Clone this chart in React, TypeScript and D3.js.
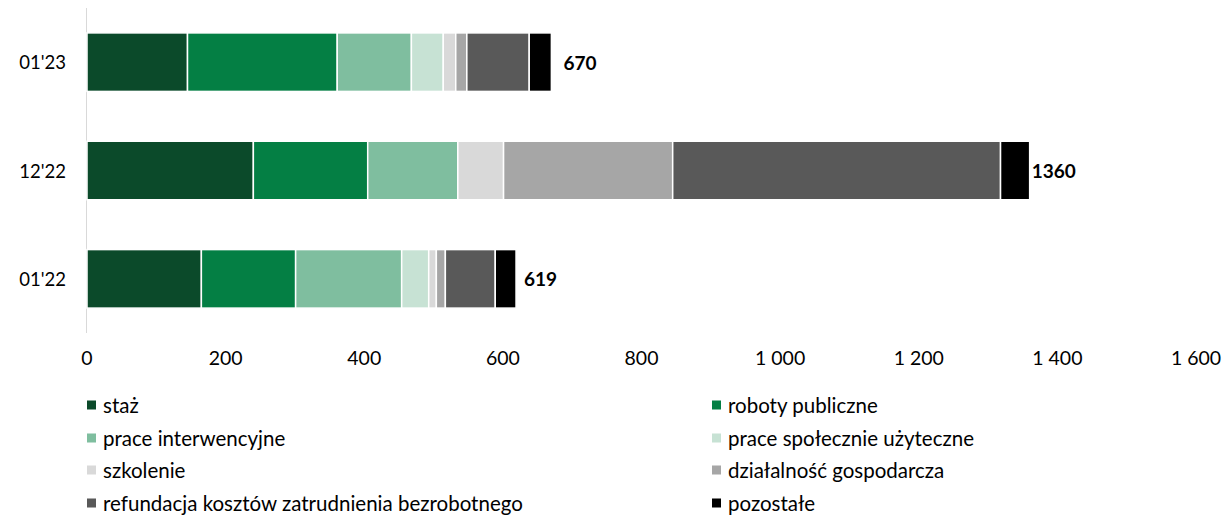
import React, { useEffect, useRef } from 'react';
import * as d3 from 'd3';

const categories = ["01'23", "12'22", "01'22"];
const seriesNames = [
  'staż',
  'roboty publiczne',
  'prace interwencyjne',
  'prace społecznie użyteczne',
  'szkolenie',
  'działalność gospodarcza',
  'refundacja kosztów zatrudnienia bezrobotnego',
  'pozostałe',
];
const seriesColors = ['#0b4a2a', '#047f44', '#7fbe9f', '#c7e2d4', '#d9d9d9', '#a6a6a6', '#595959', '#000000'];

// values per category, in series order
const staz = [145, 240, 165];
const roboty = [216, 165, 136];
const interwencyjne = [107, 130, 153];
const spoleczne = [46, 0, 39];
const szkolenie = [18, 66, 11];
const dzialalnosc = [16, 244, 13];
const refundacja = [90, 473, 72];
const pozostale = [32, 42, 30];
const totals = [670, 1360, 619];

const xTicks = [0, 200, 400, 600, 800, 1000, 1200, 1400, 1600];

const W = 1230;
const H = 517;
const FONT = 'Lato, "Noto Sans", sans-serif';

const App: React.FC = () => {
  const svgRef = useRef<SVGSVGElement>(null);

  useEffect(() => {
    if (!svgRef.current) return;
    const svg = d3.select(svgRef.current);
    svg.selectAll('*').remove();

    const series = [staz, roboty, interwencyjne, spoleczne, szkolenie, dzialalnosc, refundacja, pozostale];
    const rows = categories.map((c, i) => {
      const r: any = { cat: c };
      seriesNames.forEach((s, k) => (r[s] = series[k][i]));
      return r;
    });
    const stacked = d3.stack<any>().keys(seriesNames)(rows);

    const x = d3.scaleLinear().domain([0, 1600]).range([87, 1196]);
    const y = d3.scaleBand().domain(categories).range([8, 333]).paddingInner(0.46).paddingOuter(0.23);

    // vertical axis line
    svg.append('line')
      .attr('x1', 86.5).attr('x2', 86.5)
      .attr('y1', 8).attr('y2', 333)
      .attr('stroke', '#d9d9d9').attr('stroke-width', 1);

    // bars
    stacked.forEach((layer, k) => {
      svg.append('g')
        .selectAll('rect')
        .data(layer)
        .enter()
        .append('rect')
        .attr('x', d => x(d[0]))
        .attr('y', d => y(d.data.cat) as number)
        .attr('width', d => Math.max(0, x(d[1]) - x(d[0])))
        .attr('height', y.bandwidth())
        .attr('fill', seriesColors[k])
        .attr('stroke', d => (d[1] - d[0] > 0 ? '#fff' : 'none'))
        .attr('stroke-width', 1.5);
    });

    // category labels
    svg.append('g')
      .selectAll('text')
      .data(categories)
      .enter()
      .append('text')
      .attr('x', 66)
      .attr('y', d => (y(d) as number) + y.bandwidth() / 2)
      .attr('text-anchor', 'end')
      .attr('dominant-baseline', 'central')
      .style('font-family', FONT)
      .style('font-size', '18.5px')
      .attr('fill', '#000')
      .text(d => d);

    // total labels
    const labelGap = [12, 2, 8];
    svg.append('g')
      .selectAll('text')
      .data(totals)
      .enter()
      .append('text')
      .attr('x', (d, i) => x(d) + labelGap[i])
      .attr('y', (d, i) => (y(categories[i]) as number) + y.bandwidth() / 2)
      .attr('dominant-baseline', 'central')
      .style('font-family', FONT)
      .style('font-size', '19px')
      .style('font-weight', 'bold')
      .attr('fill', '#000')
      .text(d => String(d));

    // x tick labels
    const fmt = (v: number) => d3.format(',')(v).replace(/,/g, '\u00a0');
    svg.append('g')
      .selectAll('text')
      .data(xTicks)
      .enter()
      .append('text')
      .attr('x', d => x(d))
      .attr('y', 357)
      .attr('text-anchor', 'middle')
      .attr('dominant-baseline', 'central')
      .style('font-family', FONT)
      .style('font-size', '19.5px')
      .attr('fill', '#000')
      .text(d => fmt(d));

    // legend
    const colX = [87, 712];
    const rowY = [405, 438, 470, 503];
    const legend = svg.append('g')
      .selectAll('g')
      .data(seriesNames)
      .enter()
      .append('g')
      .attr('transform', (d, i) => `translate(${colX[i % 2]},${rowY[Math.floor(i / 2)]})`);
    legend.append('rect')
      .attr('x', 0).attr('y', -4.5)
      .attr('width', 9).attr('height', 9)
      .attr('fill', (d, i) => seriesColors[i]);
    legend.append('text')
      .attr('x', 16)
      .attr('y', 0)
      .attr('dominant-baseline', 'central')
      .style('font-family', FONT)
      .style('font-size', '20.5px')
      .attr('fill', '#000')
      .text(d => d);
  }, []);

  return (
    <svg
      ref={svgRef}
      width={W}
      height={H}
      style={{ position: 'absolute', left: 0, top: 0, background: '#fff' }}
    />
  );
};

export default App;
